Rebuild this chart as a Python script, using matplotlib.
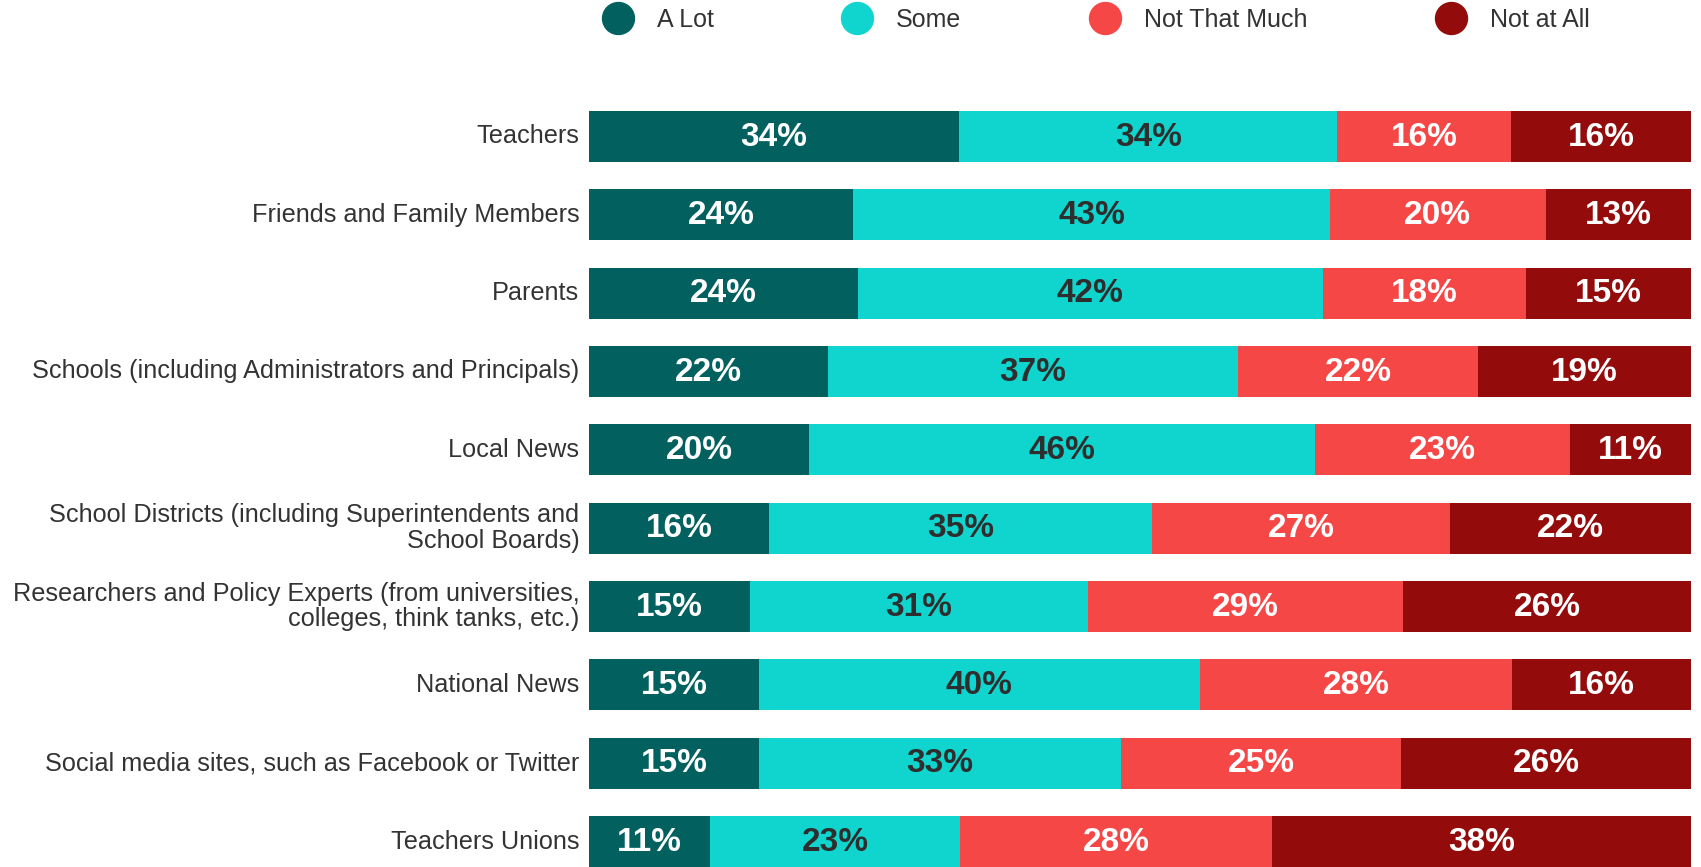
import numpy as np
import matplotlib.pyplot as plt
from matplotlib.lines import Line2D

plt.rcParams["font.family"] = ["Liberation Sans", "DejaVu Sans"]

categorias = [
    "Teachers",
    "Friends and Family Members",
    "Parents",
    "Schools (including Administrators and Principals)",
    "Local News",
    "School Districts (including Superintendents and\nSchool Boards)",
    "Researchers and Policy Experts (from universities,\ncolleges, think tanks, etc.)",
    "National News",
    "Social media sites, such as Facebook or Twitter",
    "Teachers Unions",
]

series = ["A Lot", "Some", "Not That Much", "Not at All"]

a_lot = [33.6, 24.0, 24.4, 21.7, 20.0, 16.3, 14.6, 15.4, 15.4, 11.0]
some = [34.3, 43.2, 42.2, 37.2, 45.9, 34.8, 30.7, 40.0, 32.9, 22.7]
not_that_much = [15.8, 19.6, 18.4, 21.8, 23.1, 27.0, 28.6, 28.4, 25.4, 28.3]
not_at_all = [16.3, 13.2, 15.0, 19.3, 11.0, 21.9, 26.1, 16.2, 26.3, 38.0]

cores = ["#02615F", "#10D5CE", "#F64747", "#930B0B"]
cores_texto = ["white", "#2E2E2E", "white", "white"]
cinza = "#333333"

valores = np.array([a_lot, some, not_that_much, not_at_all])
y = np.arange(len(categorias))
altura = 0.651

fig = plt.figure(figsize=(17.01, 8.67), dpi=100)
ax = fig.add_axes([589 / 1701, 0.0, (1691 - 589) / 1701, (867 - 111) / 867])

esquerda = np.zeros(len(categorias))
for i, nome in enumerate(series):
    barras = ax.barh(y, valores[i], left=esquerda, height=altura,
                     color=cores[i], label=nome, linewidth=0)
    for j, b in enumerate(barras):
        ax.text(esquerda[j] + valores[i][j] / 2, y[j] + 0.01,
                f"{round(valores[i][j])}%", ha="center", va="center",
                fontsize=24, fontweight="bold", color=cores_texto[i])
    esquerda += valores[i]

ax.set_xlim(0, 100)
ax.set_ylim(len(categorias) - 1 + altura / 2, -altura / 2)
ax.set_yticks(y)
ax.set_yticklabels(categorias, fontsize=18.2, color=cinza, linespacing=1.1,
                   va="center")
ax.tick_params(axis="y", length=0, pad=7)
ax.set_xticks([])
for s in ax.spines.values():
    s.set_visible(False)

handles = [Line2D([], [], marker="o", linestyle="", markersize=23,
                  markerfacecolor=c, markeredgecolor=c) for c in cores]
leg = fig.legend(handles, series, loc="center left",
                 bbox_to_anchor=(593 / 1701, 1 - 20 / 867), ncol=4,
                 frameon=False, fontsize=18, handlelength=2.0,
                 handletextpad=0.55, columnspacing=4.75, borderpad=0,
                 borderaxespad=0)
for t in leg.get_texts():
    t.set_color(cinza)

plt.savefig("out.png", dpi=100)
